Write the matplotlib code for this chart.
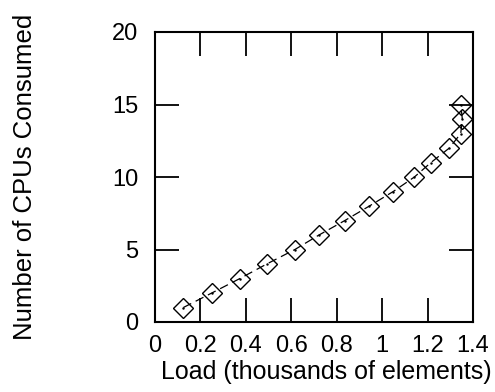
import matplotlib.pyplot as plt
import numpy as np

plt.rcParams['font.family'] = ['Liberation Sans', 'DejaVu Sans']

load = [0.125, 0.25, 0.374, 0.492, 0.616, 0.722, 0.836, 0.944, 1.049,
        1.142, 1.215, 1.296, 1.346, 1.353, 1.346]
cpus = [1, 2, 3, 4, 5, 6, 7, 8, 9, 10, 11, 12, 13, 14, 15]
xticks = [0, 0.2, 0.4, 0.6, 0.8, 1, 1.2, 1.4]
xticklabels = ['0', '0.2', '0.4', '0.6', '0.8', '1', '1.2', '1.4']
yticks = [0, 5, 10, 15, 20]

fig = plt.figure(figsize=(4.95, 3.92), dpi=100)
ax = fig.add_axes([155/495, 1-322/392, 318/495, 290/392])

ax.plot(load, cpus, color='black', linestyle=(0, (7, 4)), linewidth=0.9,
        marker='D', markersize=10, markerfacecolor='none',
        markeredgecolor='black', markeredgewidth=1.0)
ax.plot(load, cpus, linestyle='none', marker='.', markersize=1.5, color='black')

ax.set_xlim(0, 1.4)
ax.set_ylim(0, 20)
ax.set_xticks(xticks)
ax.set_xticklabels(xticklabels)
ax.set_yticks(yticks)
ax.tick_params(direction='in', length=17, width=1.3, labelsize=17,
               top=True, right=True)
ax.tick_params(axis='x', pad=9)
ax.tick_params(axis='y', pad=12)
for s in ax.spines.values():
    s.set_linewidth(1.5)

ax.set_xlabel('Load (thousands of elements)', fontsize=18)
ax.xaxis.set_label_coords(0.54, -0.13)
ax.set_ylabel('Number of CPUs Consumed', fontsize=18.5)
ax.yaxis.set_label_coords(-0.37, 0.5)

fig.savefig('out.png', dpi=100)
